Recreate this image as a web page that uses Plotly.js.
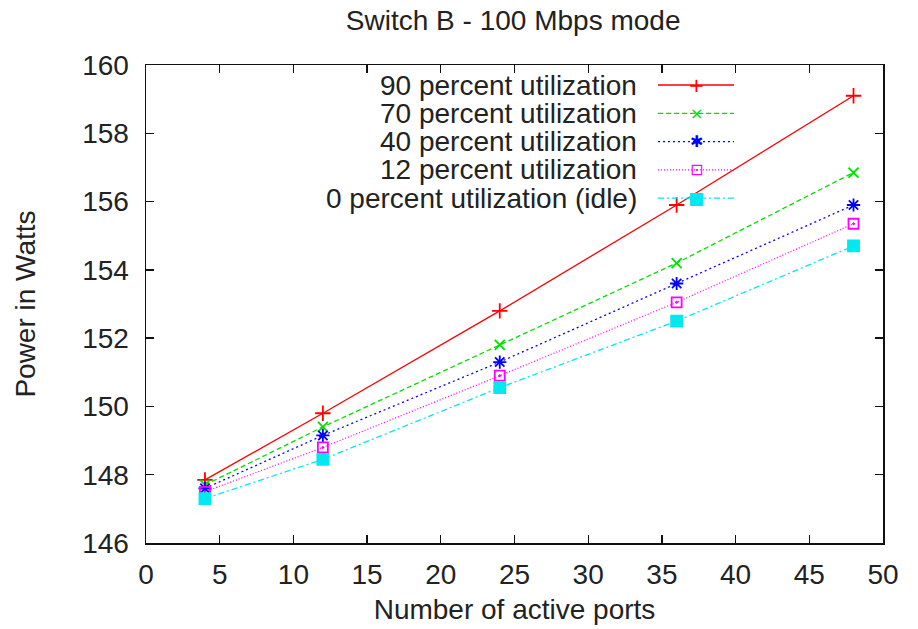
<!DOCTYPE html>
<html>
<head>
<meta charset="utf-8">
<script src="https://cdn.plot.ly/plotly-3.0.1.min.js"></script>
<style>html,body{margin:0;padding:0;background:#fff;}#chart{width:918px;height:629px;}</style>
</head>
<body>
<div id="chart"></div>
<script>
// Data
const ports = [4, 12, 24, 36, 48];
const util90 = [147.85, 149.8, 152.8, 155.9, 159.1];
const util70 = [147.7, 149.4, 151.8, 154.2, 156.85];
const util40 = [147.6, 149.15, 151.3, 153.6, 155.9];
const util12 = [147.5, 148.8, 150.9, 153.05, 155.35];
const util0  = [147.3, 148.45, 150.55, 152.5, 154.7];
const seriesNames = [
  '90 percent utilization',
  '70 percent utilization',
  '40 percent utilization',
  '12 percent utilization',
  '0 percent utilization (idle)'
];
const xTickVals = [0, 5, 10, 15, 20, 25, 30, 35, 40, 45, 50];
const yTickVals = [146, 148, 150, 152, 154, 156, 158, 160];

// Styles
const colors = ['#ff0000', '#00e000', '#0000ff', '#ff00ff', '#00e8f0'];
const dashes = ['solid', '5px,3px', '2px,3px', '1px,2px', '6px,3px,2px,3px'];
const symbols = ['cross-thin', 'x-thin', 'asterisk', 'square-open-dot', 'square'];
const sizes = [11, 10, 11, 10, 11];
const glyphs = ['+', '\u00d7', '\u2731', '\u22a1', '\u25a0'];
const values = [util90, util70, util40, util12, util0];

const traces = values.map((v, i) => ({
  x: ports, y: v, type: 'scatter', mode: 'lines+markers', name: seriesNames[i],
  line: {color: colors[i], width: 1.3, dash: dashes[i]},
  marker: {symbol: symbols[i], size: sizes[i], color: colors[i],
           line: {color: colors[i], width: 1.8}},
  showlegend: false
}));

const fontFam = 'Liberation Sans, Arial, sans-serif';
const FS = 28;
const L = 146, R = 883, T = 65, B = 543;
const W = R - L, H = B - T;
const px2x = p => (p - L) / W;
const py2y = p => (B - p) / H;

const annotations = [];
const shapes = [];
const rowY0 = 85, rowStep = 28.3;
seriesNames.forEach((n, i) => {
  const yc = rowY0 + i * rowStep;
  annotations.push({xref: 'paper', yref: 'paper', x: px2x(639), y: py2y(yc),
    xanchor: 'right', yanchor: 'middle', showarrow: false, text: n,
    font: {family: fontFam, size: FS, color: '#222'}});
  shapes.push({type: 'line', xref: 'paper', yref: 'paper',
    x0: px2x(658), x1: px2x(734), y0: py2y(yc), y1: py2y(yc),
    line: {color: colors[i], width: 1.3, dash: dashes[i]}});
  annotations.push({xref: 'paper', yref: 'paper', x: px2x(696), y: py2y(yc),
    xanchor: 'center', yanchor: 'middle', showarrow: false, text: glyphs[i],
    font: {family: 'DejaVu Sans, sans-serif', size: i === 0 ? 20 : (i === 4 ? 17 : 16), color: colors[i]}});
});

const axisCommon = {
  showline: true, linecolor: '#111', linewidth: 1.5, mirror: 'ticks',
  ticks: 'inside', ticklen: 8, tickwidth: 1.3, tickcolor: '#111',
  showgrid: false, zeroline: false,
  tickfont: {family: fontFam, size: FS, color: '#222'}
};

const layout = {
  width: 918, height: 629,
  margin: {l: L, r: 918 - R, t: T, b: 629 - B},
  paper_bgcolor: '#fff', plot_bgcolor: '#fff',
  title: {text: 'Switch B - 100 Mbps mode', x: 0.559, xanchor: 'center', y: 0.968, yanchor: 'middle',
          font: {family: fontFam, size: FS, color: '#222'}},
  xaxis: Object.assign({}, axisCommon, {
    range: [0, 50], tickvals: xTickVals, ticktext: xTickVals.map(String),
    ticklabelstandoff: 6,
    title: {text: 'Number of active ports', standoff: 10, font: {family: fontFam, size: FS, color: '#222'}}
  }),
  yaxis: Object.assign({}, axisCommon, {
    range: [146, 160], tickvals: yTickVals, ticktext: yTickVals.map(String),
    ticklabelstandoff: 10,
    title: {text: 'Power in Watts', standoff: 38, font: {family: fontFam, size: FS, color: '#222'}}
  }),
  annotations: annotations,
  shapes: shapes
};

Plotly.newPlot('chart', traces, layout, {displayModeBar: false, staticPlot: true});
</script>
</body>
</html>
